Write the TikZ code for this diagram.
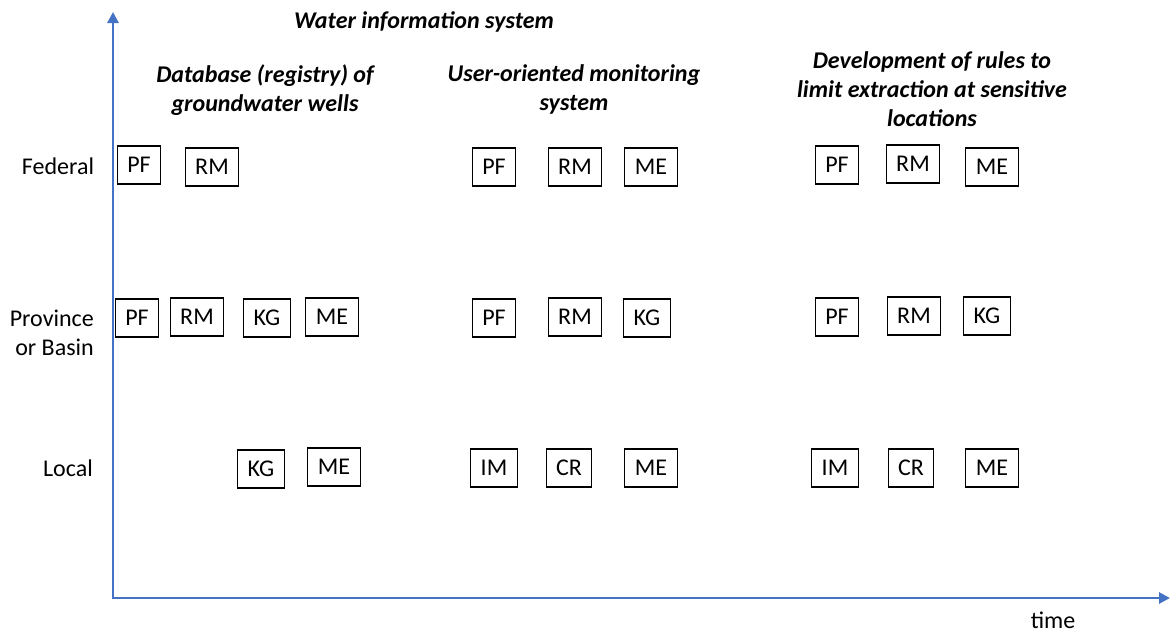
\documentclass[tikz,border=0pt]{standalone}
\usepackage{fontspec}
\setmainfont{Carlito}
\usetikzlibrary{arrows.meta}
\definecolor{axisblue}{HTML}{4472C4}

\begin{document}
\begin{tikzpicture}[x=0.02cm,y=-0.02cm,
  font=\fontsize{13.66}{16.5}\selectfont,
  box/.style={draw=black,line width=0.6pt,minimum height=0.76cm,inner xsep=0.2cm},
  heading/.style={align=center,font=\fontsize{13.66}{16.5}\selectfont\bfseries\itshape},
  axis/.style={draw=axisblue,line width=1.6pt,{Triangle[length=0.22cm,width=0.22cm]}-{Triangle[length=0.22cm,width=0.22cm]}}]

\useasboundingbox (0,0) rectangle (1171,630);

\node[heading](water) at (424,22) {Water information system};
\node[heading](database) at (265,90) {Database (registry) of\\groundwater wells};
\node[heading](monitoring) at (574,89) {User-oriented monitoring\\system};
\node[heading](rules) at (932,89) {Development of rules to\\limit extraction at sensitive\\locations};

\node(federal) at (58,166) {Federal};
\node[align=right,anchor=east](province) at (100,333) {Province\\or Basin};
\node(local) at (68,468) {Local};

% federal level
\node[box](fed pf a) at (139,165) {PF};
\node[box](fed rm a) at (212,167) {RM};

\node[box](fed pf b) at (494,167) {PF};
\node[box](fed rm b) at (575,167) {RM};
\node[box](fed me b) at (651,167) {ME};

\node[box](fed pf c) at (837,165) {PF};
\node[box](fed rm c) at (913,164) {RM};
\node[box](fed me c) at (992,167) {ME};

% province or basin level
\node[box](prov pf a) at (137,318) {PF};
\node[box](prov rm a) at (197,317) {RM};
\node[box](prov kg a) at (267,318) {KG};
\node[box](prov me a) at (332,317) {ME};

\node[box](prov pf b) at (494,318) {PF};
\node[box](prov rm b) at (575,317) {RM};
\node[box](prov kg b) at (647,318) {KG};

\node[box](prov pf c) at (837,317) {PF};
\node[box](prov rm c) at (914,316) {RM};
\node[box](prov kg c) at (987,316) {KG};

% local level
\node[box](loc kg a) at (261,469) {KG};
\node[box](loc me a) at (334,467) {ME};

\node[box](loc im b) at (494,468) {IM};
\node[box](loc cr b) at (569,468) {CR};
\node[box](loc me b) at (651,468) {ME};

\node[box](loc im c) at (835,468) {IM};
\node[box](loc cr c) at (911,468) {CR};
\node[box](loc me c) at (992,468) {ME};

% axes
\coordinate (origin) at (113,598);
\coordinate (level tip) at (113,12);
\coordinate (time tip) at (1170,598);
\draw[axis] (level tip) -- (origin) -- (time tip);

\node[inner sep=0pt,anchor=base](time) at (1053,628) {time};

\end{tikzpicture}
\end{document}
